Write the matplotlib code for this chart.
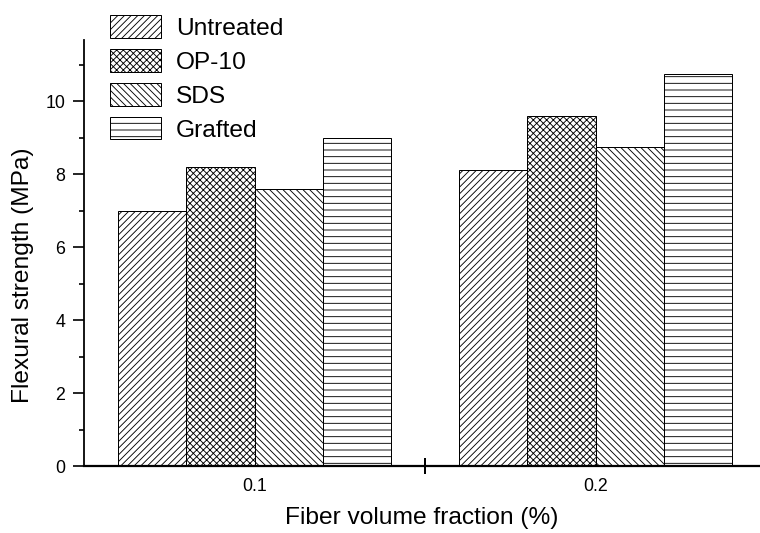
import numpy as np
import matplotlib
matplotlib.use('Agg')
import matplotlib.pyplot as plt

plt.rcParams['font.family'] = ['Liberation Sans', 'DejaVu Sans']
plt.rcParams['hatch.linewidth'] = 0.8

fractions = ['0.1', '0.2']
treatments = ['Untreated', 'OP-10', 'SDS', 'Grafted']
strength = {
    'Untreated': [7.0, 8.1],
    'OP-10': [8.2, 9.6],
    'SDS': [7.6, 8.75],
    'Grafted': [9.0, 10.75],
}
hatches = ['////', 'xxxx', '\\\\\\\\', '--']

# dpi 80 so the hatch spacing comes out close to the original
fig = plt.figure(figsize=(9.5, 6.6625), dpi=80)
ax = fig.add_axes([0.1105, 0.1257, 0.8895, 0.799])

x = np.arange(1, len(fractions) + 1)
w = 0.2
for i, t in enumerate(treatments):
    ax.bar(x + (i - 1.5) * w, strength[t], w, color='white', edgecolor='black',
           linewidth=0.9, hatch=hatches[i], label=t)

ax.set_xlim(0.5, 2.482)
ax.set_ylim(0, 11.67)
ax.set_yticks([0, 2, 4, 6, 8, 10])
ax.set_yticks([1, 3, 5, 7, 9, 11], minor=True)
ax.set_xticks(x, fractions)
ax.set_xticks([1.5], minor=True)

ax.spines['top'].set_visible(False)
ax.spines['right'].set_visible(False)
ax.spines['left'].set_linewidth(1.6)
ax.spines['bottom'].set_linewidth(2.0)

ax.tick_params(axis='y', which='major', length=10, width=1.5, labelsize=16, pad=7)
ax.tick_params(axis='y', which='minor', length=4.5, width=1.5)
ax.tick_params(axis='x', which='major', length=0, labelsize=16, pad=11)
ax.tick_params(axis='x', which='minor', direction='inout', length=14, width=1.8)

ax.set_xlabel('Fiber volume fraction (%)', fontsize=22, labelpad=11)
ax.set_ylabel('Flexural strength (MPa)', fontsize=22)
ax.yaxis.set_label_coords(-0.074, 0.448)

fig.legend(loc='upper left', bbox_to_anchor=(0.1447, 0.972), frameon=False,
           fontsize=22, handlelength=2.1, handleheight=1.05, labelspacing=0.38,
           handletextpad=0.6, borderpad=0, borderaxespad=0)

fig.savefig('out.png', dpi=80)
